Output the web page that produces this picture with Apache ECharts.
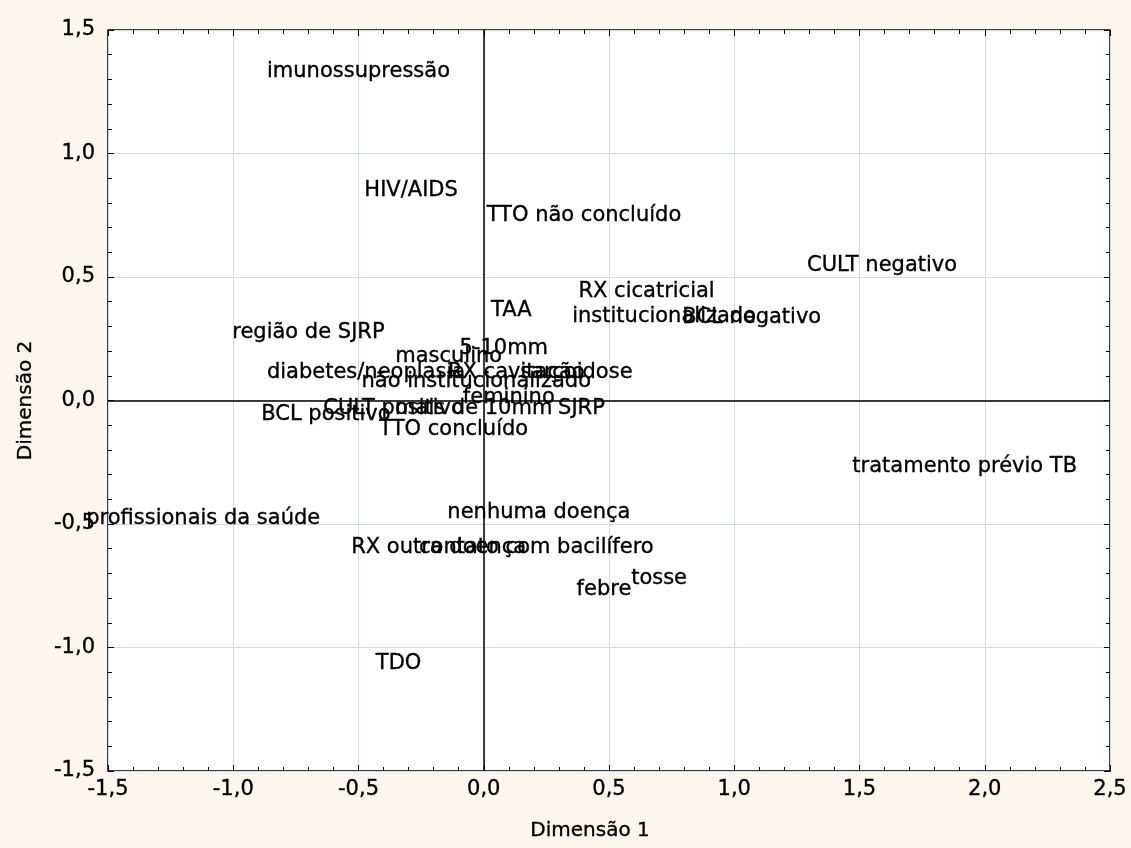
<!DOCTYPE html>
<html>
<head>
<meta charset="utf-8">
<script src="https://cdn.jsdelivr.net/npm/echarts@6/dist/echarts.min.js"></script>
<style>
html,body{margin:0;padding:0;background:#fdf6ef;}
#c{width:1131px;height:848px;}
</style>
</head>
<body>
<div id="c"></div>
<script>
// Category labels (points of the correspondence map)
const labels = [
  "imunossupressão", "HIV/AIDS", "TTO não concluído", "CULT negativo",
  "RX cicatricial", "institucionalizado", "BCL negativo", "TAA",
  "região de SJRP", "5-10mm", "masculino", "diabetes/neoplasia",
  "RX cavitação", "sarcoidose", "não institucionalizado", "feminino",
  "CULT positivo", "mais de 10mm", "SJRP", "BCL positivo",
  "TTO concluído", "tratamento prévio TB", "profissionais da saúde",
  "nenhuma doença", "RX outra doença", "contato com bacilífero",
  "febre", "tosse", "TDO"
];
// Dimension 1 coordinates
const dim1 = [
  -0.50, -0.29, 0.40, 1.59,
  0.65, 0.72, 1.07, 0.11,
  -0.70, 0.08, -0.14, -0.47,
  0.13, 0.37, -0.03, 0.10,
  -0.36, -0.04, 0.39, -0.63,
  -0.12, 1.92, -1.12,
  0.22, -0.18, 0.21,
  0.48, 0.70, -0.34
];
// Dimension 2 coordinates
const dim2 = [
  1.33, 0.85, 0.75, 0.545,
  0.44, 0.34, 0.335, 0.366,
  0.275, 0.212, 0.176, 0.115,
  0.115, 0.115, 0.075, 0.01,
  -0.031, -0.031, -0.031, -0.057,
  -0.119, -0.269, -0.476,
  -0.455, -0.597, -0.597,
  -0.767, -0.719, -1.063
];
const xTicks = {min: -1.5, max: 2.5, interval: 0.5};
const yTicks = {min: -1.5, max: 1.5, interval: 0.5};

const fmt = v => v.toFixed(1).replace('.', ',');
const FONT = '"DejaVu Sans", sans-serif';
const pts = labels.map((n, i) => ({name: n, value: [dim1[i], dim2[i]]}));

const gridColor = '#cddbe8';
const txt = {color: '#000', fontFamily: FONT, textBorderColor: '#000', textBorderWidth: 0.35};
function mkX(pos, show) {
  return {
    type: 'value', position: pos, min: xTicks.min, max: xTicks.max, interval: xTicks.interval,
    axisLine: {show: false, onZero: false},
    axisTick: {show: true, inside: true, length: 6, lineStyle: {color: '#000'}},
    minorTick: {show: true, splitNumber: 5, length: 4, lineStyle: {color: '#000'}},
    splitLine: {show: show, lineStyle: {color: gridColor, width: 1}},
    axisLabel: Object.assign({show: show, formatter: fmt, fontSize: 21, margin: 8}, txt),
    name: show ? 'Dimensão 1' : '', nameLocation: 'middle', nameGap: 50,
    nameTextStyle: Object.assign({fontSize: 20, padding: [0, 38, 0, 0]}, txt)
  };
}
function mkY(pos, show) {
  return {
    type: 'value', position: pos, min: yTicks.min, max: yTicks.max, interval: yTicks.interval,
    axisLine: {show: false, onZero: false},
    axisTick: {show: true, inside: true, length: 6, lineStyle: {color: '#000'}},
    minorTick: {show: true, splitNumber: 5, length: 4, lineStyle: {color: '#000'}},
    splitLine: {show: show, lineStyle: {color: gridColor, width: 1}},
    axisLabel: Object.assign({show: show, formatter: fmt, fontSize: 21, margin: 13}, txt),
    name: show ? 'Dimensão 2' : '', nameLocation: 'middle', nameGap: 72, nameRotate: 90,
    nameTextStyle: Object.assign({fontSize: 20}, txt)
  };
}

const chart = echarts.init(document.getElementById('c'), null, {renderer: 'canvas'});
chart.setOption({
  backgroundColor: '#fdf6ef',
  animation: false,
  grid: {left: 108, right: 21, top: 30, bottom: 77, show: true, backgroundColor: '#ffffff',
         borderColor: '#000', borderWidth: 1.5},
  xAxis: [mkX('bottom', true), mkX('top', false)],
  yAxis: [mkY('left', true), mkY('right', false)],
  series: [{
    type: 'scatter',
    xAxisIndex: 0, yAxisIndex: 0,
    data: pts,
    symbolSize: 1,
    clip: false,
    itemStyle: {color: '#000', opacity: 0},
    label: Object.assign({
      show: true, position: 'inside', formatter: p => p.name,
      opacity: 1, fontSize: 21
    }, txt),
    emphasis: {disabled: true},
    markLine: {
      silent: true, symbol: 'none', animation: false,
      label: {show: false},
      lineStyle: {color: '#000', width: 1.5, type: 'solid'},
      data: [{xAxis: 0}, {yAxis: 0}]
    }
  }]
});
</script>
</body>
</html>
